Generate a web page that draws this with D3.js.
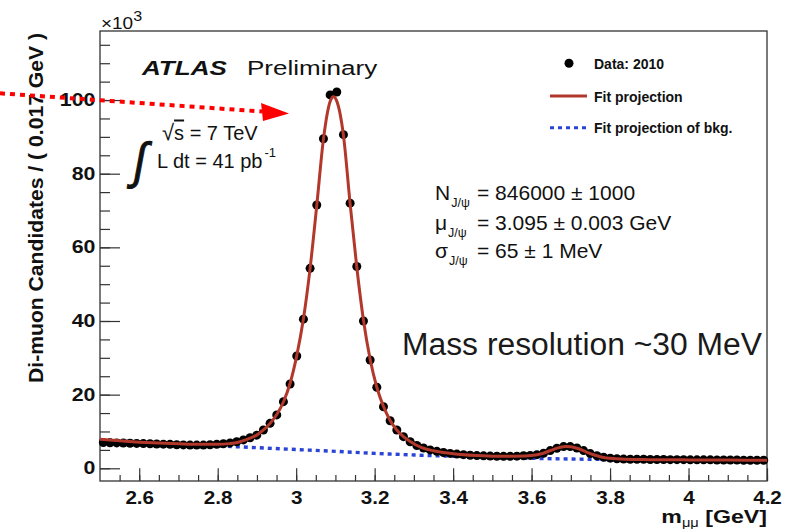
<!DOCTYPE html>
<html>
<head>
<meta charset="utf-8">
<script src="https://cdn.jsdelivr.net/npm/d3@7"></script>
<style>
  body { margin: 0; background: #fff; }
  svg { display: block; }
  text { font-family: "Liberation Sans", Arial, Helvetica, sans-serif; }
</style>
</head>
<body>
<script>
// Di-muon invariant mass spectrum, J/psi region, 0.017 GeV bins from 2.5 GeV
const binLow = 2.5;
const binWidth = 0.017;

// Candidates per bin, in thousands
const counts = [
  7.0, 6.95, 6.9, 6.85, 6.8, 6.75, 6.7, 6.65, 6.6, 6.55,
  6.5, 6.4, 6.35, 6.3, 6.3, 6.3, 6.4, 6.5, 6.65, 6.9,
  7.2, 7.7, 8.3, 9.0, 10.4, 12.2, 14.5, 18.1, 22.9, 30.5,
  40.5, 54.3, 71.5, 89.5, 101.4, 102.2, 90.6, 72.0, 54.8, 40.0,
  29.4, 22.0, 16.7, 12.9, 10.4, 8.6, 7.2, 6.2, 5.5, 5.0,
  4.6, 4.3, 4.05, 3.85, 3.7, 3.55, 3.45, 3.38, 3.32, 3.28,
  3.25, 3.25, 3.3, 3.4, 3.5, 3.7, 4.1, 4.8, 5.45, 5.9,
  5.9, 5.5, 4.8, 4.0, 3.4, 3.0, 2.75, 2.6, 2.5, 2.45,
  2.45, 2.45, 2.4, 2.4, 2.4, 2.35, 2.35, 2.35, 2.3, 2.3,
  2.3, 2.3, 2.25, 2.25, 2.25, 2.25, 2.2, 2.2, 2.2, 2.2
];

// Full fit projection (signal + background), thousands
const fitMass = [
  2.50, 2.55, 2.60, 2.65, 2.70, 2.75, 2.80, 2.83, 2.85, 2.8655,
  2.8825, 2.8995, 2.9165, 2.9335, 2.9505, 2.9675, 2.9845, 3.0015, 3.0185, 3.0355,
  3.0525, 3.0695, 3.0865, 3.095, 3.1035, 3.1205, 3.1375, 3.1545, 3.1715, 3.1885,
  3.2055, 3.2225, 3.2395, 3.2565, 3.2735, 3.2905, 3.32, 3.35, 3.38, 3.42,
  3.46, 3.50, 3.54, 3.58, 3.61, 3.63, 3.65, 3.67, 3.686, 3.70,
  3.72, 3.74, 3.76, 3.78, 3.80, 3.84, 3.90, 4.00, 4.10, 4.20
];
const fitCounts = [
  7.9, 7.45, 7.1, 6.85, 6.65, 6.5, 6.5, 6.7, 7.0, 7.5,
  8.2, 9.0, 10.4, 12.2, 14.6, 18.0, 23.1, 30.6, 40.6, 54.3,
  71.4, 89.4, 99.6, 100.9, 99.7, 90.4, 71.8, 54.6, 40.2, 29.6,
  22.0, 16.8, 13.0, 10.4, 8.6, 7.3, 5.6, 4.75, 4.2, 3.75,
  3.45, 3.3, 3.25, 3.35, 3.6, 4.1, 4.9, 5.6, 5.95, 5.85,
  5.3, 4.4, 3.6, 3.0, 2.7, 2.45, 2.35, 2.28, 2.23, 2.2
];

// Background-only fit projection, thousands
const bkgMass = [2.5, 2.6, 2.7, 2.8, 2.9, 3.0, 3.1, 3.2, 3.3, 3.4, 3.5, 3.6, 3.7, 3.8, 3.9, 4.0, 4.1, 4.2];
const bkgCounts = [7.75, 7.15, 6.6, 6.1, 5.6, 5.1, 4.6, 4.05, 3.62, 3.25, 2.98, 2.72, 2.52, 2.38, 2.3, 2.25, 2.21, 2.19];

const xTickValues = [2.6, 2.8, 3.0, 3.2, 3.4, 3.6, 3.8, 4.0, 4.2];
const xTickLabels = ["2.6", "2.8", "3", "3.2", "3.4", "3.6", "3.8", "4", "4.2"];
const yTickValues = [0, 20, 40, 60, 80, 100];
const yTickLabels = ["0", "20", "40", "60", "80", "100"];

const fitLines = [
  { sym: "N", sub: "J/\u03C8", rest: "= 846000 \u00B1 1000" },
  { sym: "\u03BC", sub: "J/\u03C8", rest: "= 3.095 \u00B1 0.003 GeV" },
  { sym: "\u03C3", sub: "J/\u03C8", rest: "= 65 \u00B1 1 MeV" }
];

const legendItems = [
  { kind: "dot", label: "Data: 2010" },
  { kind: "fit", label: "Fit projection" },
  { kind: "bkg", label: "Fit projection of bkg." }
];

const W = 795, H = 529;
const frame = { left: 100, right: 767, top: 31, bottom: 481 };
const red = "#b3382c", blue = "#2a44d4", ink = "#111";

const svg = d3.select("body").append("svg").attr("width", W).attr("height", H);

const x = d3.scaleLinear().domain([2.5, 4.2]).range([frame.left, frame.right]);
const y = d3.scaleLinear().domain([-3.45, 118.75]).range([frame.bottom, frame.top]);

// ---- axes: ticks point into the plot ----
const yMinor = d3.range(0, 116, 5);
const xMinor = d3.range(51, 85).map(k => k / 20);

const gyMinor = svg.append("g").attr("transform", `translate(${frame.left},0)`)
  .call(d3.axisLeft(y).tickValues(yMinor).tickSize(-10).tickFormat(""));
const gy = svg.append("g").attr("transform", `translate(${frame.left},0)`)
  .call(d3.axisLeft(y).tickValues(yTickValues).tickSize(-20).tickPadding(3.7)
    .tickFormat((d, i) => yTickLabels[i]));
const gxMinor = svg.append("g").attr("transform", `translate(0,${frame.bottom})`)
  .call(d3.axisBottom(x).tickValues(xMinor).tickSize(-6).tickFormat(""));
const gx = svg.append("g").attr("transform", `translate(0,${frame.bottom})`)
  .call(d3.axisBottom(x).tickValues(xTickValues).tickSize(-12.7).tickPadding(10.4)
    .tickFormat((d, i) => xTickLabels[i]));

[gyMinor, gy, gxMinor, gx].forEach(g => {
  g.select(".domain").remove();
  g.selectAll(".tick line").attr("stroke", "#333").attr("stroke-width", 1.2);
});
gy.selectAll(".tick text")
  .attr("fill", ink).attr("font-size", 17.5).attr("font-weight", "bold")
  .attr("font-family", "Liberation Sans, Arial, sans-serif")
  .attr("transform", "scale(1.22,1)");
gx.selectAll(".tick text")
  .attr("fill", ink).attr("font-size", 17.5).attr("font-weight", "bold")
  .attr("font-family", "Liberation Sans, Arial, sans-serif")
  .attr("transform", "scale(1.18,1)");

// frame
svg.append("rect")
  .attr("x", frame.left).attr("y", frame.top)
  .attr("width", frame.right - frame.left).attr("height", frame.bottom - frame.top)
  .attr("fill", "none").attr("stroke", "#333").attr("stroke-width", 1.3);

// ---- curves and data ----
const plot = svg.append("g");

const bkgLine = d3.line().x((d, i) => x(bkgMass[i])).y(d => y(d)).curve(d3.curveMonotoneX);
plot.append("path").attr("d", bkgLine(bkgCounts))
  .attr("fill", "none").attr("stroke", blue).attr("stroke-width", 3.4)
  .attr("stroke-dasharray", "4,4");

plot.selectAll("circle.data").data(counts).join("circle")
  .attr("class", "data")
  .attr("cx", (d, i) => x(binLow + binWidth * (i + 0.5)))
  .attr("cy", d => y(d))
  .attr("r", 4.5).attr("fill", "#000");

const fitLine = d3.line().x((d, i) => x(fitMass[i])).y(d => y(d)).curve(d3.curveMonotoneX);
plot.append("path").attr("d", fitLine(fitCounts))
  .attr("fill", "none").attr("stroke", red).attr("stroke-width", 3)
  .attr("stroke-linejoin", "round");

// ---- axis titles ----
svg.append("text")
  .attr("transform", "translate(42.5,33) rotate(-90)")
  .attr("text-anchor", "end")
  .attr("font-size", 21).attr("font-weight", "bold").attr("fill", ink)
  .attr("textLength", 350).attr("lengthAdjust", "spacingAndGlyphs")
  .text("Di-muon Candidates / ( 0.017 GeV )");

const xt = svg.append("text")
  .attr("transform", "translate(767,523) scale(1.22,1)")
  .attr("text-anchor", "end").attr("fill", ink)
  .attr("font-size", 19).attr("font-weight", "bold");
xt.append("tspan").text("m");
xt.append("tspan").attr("font-size", 12).attr("font-weight", "normal").attr("dy", 4).text("\u03BC\u03BC");
xt.append("tspan").attr("dy", -4).text(" [GeV]");

// exponent label
const ex = svg.append("text")
  .attr("transform", "translate(101,28.5) scale(1.15,1)")
  .attr("fill", ink).attr("font-size", 16.5);
ex.append("tspan").text("\u00D710");
ex.append("tspan").attr("font-size", 14).attr("dy", -8).text("3");

// ---- ATLAS label ----
svg.append("text")
  .attr("transform", "translate(142,75) scale(1.24,1)")
  .attr("font-size", 21).attr("font-weight", "bold").attr("font-style", "italic").attr("fill", ink)
  .text("ATLAS");
svg.append("text")
  .attr("transform", "translate(247,75) scale(1.24,1)")
  .attr("font-size", 21).attr("fill", ink)
  .text("Preliminary");

// energy and luminosity
const rs = svg.append("text").attr("x", 162).attr("y", 139.5)
  .attr("font-size", 20).attr("fill", ink);
rs.append("tspan").attr("font-size", 22).text("\u221A");
rs.append("tspan").attr("text-decoration", "overline").text("s");
rs.append("tspan").text(" = 7 TeV");

// integral sign, slanted and stretched like a display-style operator
svg.append("text").attr("transform", "translate(131,178) scale(1.1,1.25) skewX(-12)")
  .attr("font-size", 40).attr("fill", ink)
  .attr("stroke", ink).attr("stroke-width", 0.8)
  .attr("font-family", "Liberation Serif, DejaVu Serif, serif")
  .text("\u222B");
const lum = svg.append("text").attr("x", 157).attr("y", 168.3)
  .attr("font-size", 20).attr("fill", ink);
lum.append("tspan").text("L dt = 41 pb");
lum.append("tspan").attr("font-size", 13).attr("dy", -11).attr("dx", 2).text("-1");

// ---- red arrow ----
svg.append("line")
  .attr("x1", 0).attr("y1", 93.3).attr("x2", 262).attr("y2", 111.5)
  .attr("stroke", "#f00").attr("stroke-width", 4).attr("stroke-dasharray", "5,5");
svg.append("path")
  .attr("d", "M261,103 L289,113.5 L263,121 Z")
  .attr("fill", "#f00");

// ---- legend ----
const legY = [63.3, 96, 127.7];
const leg = svg.append("g");
legendItems.forEach((it, i) => {
  const cy = legY[i];
  if (it.kind === "dot") {
    leg.append("circle").attr("cx", 569).attr("cy", cy).attr("r", 4.5).attr("fill", "#000");
  } else {
    leg.append("line").attr("x1", 550).attr("x2", 587).attr("y1", cy).attr("y2", cy)
      .attr("stroke", it.kind === "fit" ? red : blue).attr("stroke-width", 3)
      .attr("stroke-dasharray", it.kind === "fit" ? null : "4,4");
  }
  leg.append("text").attr("x", 594).attr("y", cy + 5.5)
    .attr("font-size", 14).attr("font-weight", "bold").attr("fill", ink)
    .text(it.label);
});

// ---- fit results ----
const fitY = [199.5, 230, 257.5];
fitLines.forEach((f, i) => {
  const t = svg.append("text").attr("x", 435).attr("y", fitY[i]).attr("font-size", 21).attr("fill", ink);
  t.append("tspan").text(f.sym);
  t.append("tspan").attr("font-size", 12.5).attr("dy", 7).attr("dx", 1).text(f.sub);
  svg.append("text").attr("x", 477).attr("y", fitY[i]).attr("font-size", 21).attr("fill", ink)
    .text(f.rest);
});

svg.append("text").attr("x", 402).attr("y", 355)
  .attr("font-size", 31).attr("fill", "#1a1a1a")
  .attr("textLength", 360).attr("lengthAdjust", "spacingAndGlyphs")
  .text("Mass resolution ~30 MeV");
</script>
</body>
</html>
